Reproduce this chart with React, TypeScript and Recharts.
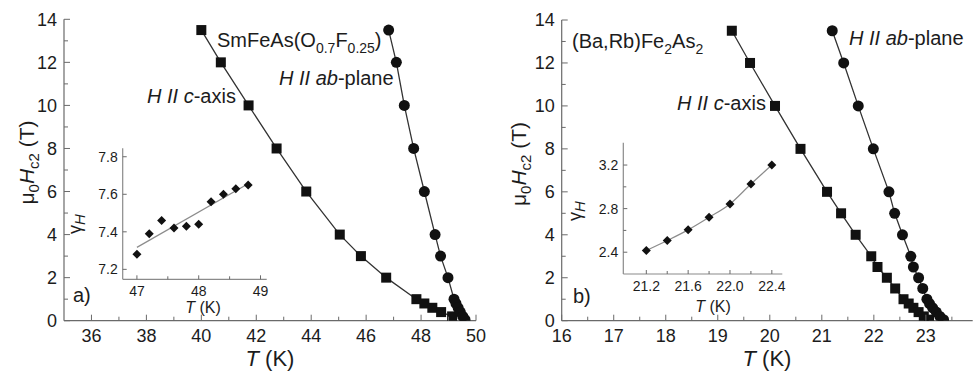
import React from 'react';
import { ComposedChart, Line, XAxis, YAxis } from 'recharts';

const FONT = '"Liberation Sans", Arial, Helvetica, sans-serif';
const TXT = '#1c1c1c';
const FRAME = '#6a6a6a';
const MARK = '#111';
const LINE = '#333';

// ---- Panel a: SmFeAs(O0.7F0.25) ----
const aCAxisT = [40.0, 40.71, 41.72, 42.74, 43.82, 45.04, 45.81, 46.73, 47.83, 48.12, 48.41, 48.73, 49.13];
const aCAxisH = [13.5, 12, 10, 8, 6, 4, 3, 2, 1, 0.8, 0.6, 0.4, 0.2];
const aAbT = [46.82, 47.1, 47.39, 47.73, 48.12, 48.51, 48.71, 48.98, 49.2, 49.27, 49.35, 49.43, 49.52, 49.6];
const aAbH = [13.5, 12, 10, 8, 6, 4, 3, 2, 1, 0.8, 0.6, 0.4, 0.2, 0.05];
const aXTicks = [36, 37, 38, 39, 40, 41, 42, 43, 44, 45, 46, 47, 48, 49, 50];
const aXLabels = [36, 38, 40, 42, 44, 46, 48, 50];
const hTicks = [0, 1, 2, 3, 4, 5, 6, 7, 8, 9, 10, 11, 12, 13, 14];
const hLabels = [0, 2, 4, 6, 8, 10, 12, 14];

// inset a
const aInsT = [47.0, 47.2, 47.4, 47.6, 47.8, 48.0, 48.2, 48.4, 48.6, 48.8];
const aInsG = [7.28, 7.39, 7.46, 7.42, 7.43, 7.44, 7.56, 7.6, 7.63, 7.65];
const aFitT = [47.0, 48.8];
const aFitG = [7.317, 7.656];
const aInsXTicks = [47, 47.5, 48, 48.5, 49];
const aInsXLabels = [47, 48, 49];
const aInsYTicks = [7.2, 7.4, 7.6, 7.8];
const aInsYLabels = [7.2, 7.4, 7.6, 7.8];

// ---- Panel b: (Ba,Rb)Fe2As2 ----
const bCAxisT = [19.27, 19.62, 20.1, 20.59, 21.1, 21.37, 21.65, 21.95, 22.07, 22.25, 22.41, 22.57, 22.67, 22.76, 22.86, 22.96, 23.06];
const bCAxisH = [13.5, 12, 10, 8, 6, 5, 4, 3, 2.5, 2, 1.5, 1, 0.8, 0.6, 0.4, 0.2, 0.05];
const bAbT = [21.2, 21.42, 21.7, 21.99, 22.29, 22.4, 22.55, 22.71, 22.76, 22.86, 22.94, 23.02, 23.07, 23.13, 23.2, 23.27, 23.34];
const bAbH = [13.5, 12, 10, 8, 6, 5, 4, 3, 2.5, 2, 1.5, 1, 0.8, 0.6, 0.4, 0.2, 0.05];
const bXTicks = [16, 16.5, 17, 17.5, 18, 18.5, 19, 19.5, 20, 20.5, 21, 21.5, 22, 22.5, 23, 23.5];
const bXLabels = [16, 17, 18, 19, 20, 21, 22, 23];

// inset b
const bInsT = [21.2, 21.4, 21.6, 21.8, 22.0, 22.2, 22.4];
const bInsG = [2.415, 2.507, 2.605, 2.72, 2.843, 3.026, 3.2];
const bInsXTicks = [21.2, 21.4, 21.6, 21.8, 22.0, 22.2, 22.4];
const bInsXLabels = [21.2, 21.6, 22.0, 22.4];
const bInsYTicks = [2.4, 2.6, 2.8, 3.0, 3.2];
const bInsYLabels = [2.4, 2.8, 3.2];

const toPts = (xs: number[], ys: number[]) => xs.map((x, i) => ({ x, y: ys[i] }));

type Side = 'bottom' | 'left' | 'top' | 'right';

function makeTick(
  side: Side,
  majors: number[],
  opts: { fontSize?: number; margin?: number; major?: number; minor?: number; label?: boolean; fmt?: (v: number) => string }
) {
  const { fontSize = 18, margin = 0, major = 6, minor = 4, label = false, fmt = (v: number) => String(v) } = opts;
  return (props: any) => {
    const { x, y, payload } = props;
    const v = payload.value as number;
    const isMajor = majors.some((m) => Math.abs(m - v) < 1e-6);
    const len = isMajor ? major : minor;
    let ln: any = null;
    let tx: any = null;
    if (side === 'bottom') {
      ln = <line x1={x} x2={x} y1={y - margin} y2={y - margin - len} stroke={FRAME} strokeWidth={1} />;
      if (label && isMajor)
        tx = (
          <text x={x} y={y} dy="0.72em" textAnchor="middle" fontSize={fontSize} fontFamily={FONT} fill={TXT}>
            {fmt(v)}
          </text>
        );
    } else if (side === 'left') {
      ln = <line x1={x + margin} x2={x + margin + len} y1={y} y2={y} stroke={FRAME} strokeWidth={1} />;
      if (label && isMajor)
        tx = (
          <text x={x} y={y} dy="0.36em" textAnchor="end" fontSize={fontSize} fontFamily={FONT} fill={TXT}>
            {fmt(v)}
          </text>
        );
    } else if (side === 'top') {
      ln = <line x1={x} x2={x} y1={y + margin} y2={y + margin + len} stroke={FRAME} strokeWidth={1} />;
    } else {
      ln = <line x1={x - margin} x2={x - margin - len} y1={y} y2={y} stroke={FRAME} strokeWidth={1} />;
    }
    return (
      <g>
        {ln}
        {tx}
      </g>
    );
  };
}

const squareDot = (size: number) => (p: any) =>
  p.cx == null ? <g key={`s${p.index}`} /> : (
    <rect key={`s${p.index}`} x={p.cx - size / 2} y={p.cy - size / 2} width={size} height={size} fill={MARK} />
  );
const circleDot = (r: number) => (p: any) =>
  p.cx == null ? <g key={`c${p.index}`} /> : <circle key={`c${p.index}`} cx={p.cx} cy={p.cy} r={r} fill={MARK} />;
const diamondDot = (r: number) => (p: any) =>
  p.cx == null ? <g key={`d${p.index}`} /> : (
    <polygon
      key={`d${p.index}`}
      points={`${p.cx},${p.cy - r} ${p.cx + r},${p.cy} ${p.cx},${p.cy + r} ${p.cx - r},${p.cy}`}
      fill={MARK}
    />
  );

interface MainProps {
  width: number;
  height: number;
  margin: { top: number; right: number; bottom: number; left: number };
  yAxisWidth: number;
  xAxisHeight: number;
  xDomain: [number, number];
  xTicks: number[];
  xLabels: number[];
  cData: { x: number; y: number }[];
  abData: { x: number; y: number }[];
}

function MainPanel(p: MainProps) {
  const axisLine = { stroke: FRAME, strokeWidth: 1.2 };
  return (
    <ComposedChart width={p.width} height={p.height} margin={p.margin}>
      <XAxis
        xAxisId="b"
        type="number"
        dataKey="x"
        domain={p.xDomain}
        ticks={p.xTicks}
        interval={0}
        allowDataOverflow
        orientation="bottom"
        height={p.xAxisHeight}
        tickSize={0}
        tickMargin={8}
        tickLine={false}
        axisLine={axisLine}
        tick={makeTick('bottom', p.xLabels, { fontSize: 18, margin: 8, label: true, major: 6, minor: 4 })}
      />
      <XAxis
        xAxisId="t"
        type="number"
        dataKey="x"
        domain={p.xDomain}
        ticks={p.xTicks}
        interval={0}
        allowDataOverflow
        orientation="top"
        height={0}
        tickSize={0}
        tickMargin={0}
        tickLine={false}
        axisLine={axisLine}
        tick={makeTick('top', p.xLabels, { major: 6, minor: 4 })}
      />
      <YAxis
        yAxisId="l"
        type="number"
        domain={[0, 14]}
        ticks={hTicks}
        interval={0}
        allowDataOverflow
        orientation="left"
        width={p.yAxisWidth}
        tickSize={0}
        tickMargin={7}
        tickLine={false}
        axisLine={axisLine}
        tick={makeTick('left', hLabels, { fontSize: 18, margin: 7, label: true, major: 6, minor: 4 })}
      />
      <YAxis
        yAxisId="r"
        type="number"
        domain={[0, 14]}
        ticks={hTicks}
        interval={0}
        allowDataOverflow
        orientation="right"
        width={0}
        tickSize={0}
        tickMargin={0}
        tickLine={false}
        axisLine={axisLine}
        tick={makeTick('right', hLabels, { major: 6, minor: 4 })}
      />
      <Line
        xAxisId="b"
        yAxisId="l"
        data={p.cData}
        dataKey="y"
        type="linear"
        stroke={LINE}
        strokeWidth={1.3}
        dot={squareDot(10)}
        activeDot={false}
        isAnimationActive={false}
      />
      <Line
        xAxisId="b"
        yAxisId="l"
        data={p.abData}
        dataKey="y"
        type="linear"
        stroke={LINE}
        strokeWidth={1.3}
        dot={circleDot(5.5)}
        activeDot={false}
        isAnimationActive={false}
      />
    </ComposedChart>
  );
}

interface InsetProps {
  width: number;
  height: number;
  margin: { top: number; right: number; bottom: number; left: number };
  yAxisWidth: number;
  xAxisHeight: number;
  xDomain: [number, number];
  yDomain: [number, number];
  xTicks: number[];
  xLabels: number[];
  yTicks: number[];
  yLabels: number[];
  pts: { x: number; y: number }[];
  curve: { x: number; y: number }[];
  curveType: 'linear' | 'monotone';
  fmtX: (v: number) => string;
}

function InsetPanel(p: InsetProps) {
  const axisLine = { stroke: '#8a8a8a', strokeWidth: 1.2 };
  const fmt = (v: number) => v.toFixed(1);
  return (
    <ComposedChart width={p.width} height={p.height} margin={p.margin}>
      <XAxis
        xAxisId="b"
        type="number"
        dataKey="x"
        domain={p.xDomain}
        ticks={p.xTicks}
        interval={0}
        allowDataOverflow
        orientation="bottom"
        height={p.xAxisHeight}
        tickSize={0}
        tickMargin={7}
        tickLine={false}
        axisLine={axisLine}
        tick={makeTick('bottom', p.xLabels, { fontSize: 14, margin: 7, label: true, major: 4, minor: 3, fmt: p.fmtX })}
      />
      <XAxis
        xAxisId="t"
        type="number"
        dataKey="x"
        domain={p.xDomain}
        ticks={p.xTicks}
        interval={0}
        allowDataOverflow
        orientation="top"
        height={0}
        tickSize={0}
        tickMargin={0}
        tickLine={false}
        axisLine={axisLine}
        tick={makeTick('top', p.xLabels, { major: 4, minor: 3 })}
      />
      <YAxis
        yAxisId="l"
        type="number"
        domain={p.yDomain}
        ticks={p.yTicks}
        interval={0}
        allowDataOverflow
        orientation="left"
        width={p.yAxisWidth}
        tickSize={0}
        tickMargin={5}
        tickLine={false}
        axisLine={axisLine}
        tick={makeTick('left', p.yLabels, { fontSize: 14, margin: 5, label: true, major: 4, minor: 3, fmt })}
      />
      <YAxis
        yAxisId="r"
        type="number"
        domain={p.yDomain}
        ticks={p.yTicks}
        interval={0}
        allowDataOverflow
        orientation="right"
        width={0}
        tickSize={0}
        tickMargin={0}
        tickLine={false}
        axisLine={axisLine}
        tick={makeTick('right', p.yLabels, { major: 4, minor: 3 })}
      />
      <Line
        xAxisId="b"
        yAxisId="l"
        data={p.curve}
        dataKey="y"
        type={p.curveType}
        stroke="#8c8c8c"
        strokeWidth={1.2}
        dot={false}
        activeDot={false}
        isAnimationActive={false}
      />
      <Line
        xAxisId="b"
        yAxisId="l"
        data={p.pts}
        dataKey="y"
        type="linear"
        stroke="none"
        dot={diamondDot(4.5)}
        activeDot={false}
        isAnimationActive={false}
      />
    </ComposedChart>
  );
}

function Overlay() {
  const base = { fontFamily: FONT, fill: TXT } as const;
  const yTitle = (bx: number, cy: number) => (
    <text {...base} transform="rotate(-90)" x={-cy} y={bx} textAnchor="middle" fontSize={21}>
      <tspan>μ</tspan>
      <tspan fontSize={15} dy={5}>0</tspan>
      <tspan fontStyle="italic" dy={-5}>H</tspan>
      <tspan fontSize={15} dy={5}>c2</tspan>
      <tspan dy={-5}> (T)</tspan>
    </text>
  );
  const gamma = (bx: number, cy: number) => (
    <text {...base} transform="rotate(-90)" x={-cy} y={bx} textAnchor="middle" fontSize={18}>
      <tspan>γ</tspan>
      <tspan fontSize={15} fontStyle="italic" dy={4}>H</tspan>
    </text>
  );
  const tk = (cx: number, by: number, fs: number) => (
    <text {...base} x={cx} y={by} textAnchor="middle" fontSize={fs}>
      <tspan fontStyle="italic">T</tspan>
      <tspan> (K)</tspan>
    </text>
  );
  const hLabel = (x: number, by: number, dir: string, rest: string) => (
    <text {...base} x={x} y={by} fontSize={20}>
      <tspan fontStyle="italic">H II {dir}</tspan>
      <tspan>{rest}</tspan>
    </text>
  );
  return (
    <svg width={976} height={380} style={{ position: 'absolute', left: 0, top: 0, pointerEvents: 'none' }}>
      {yTitle(33.5, 162.5)}
      {yTitle(526, 164)}
      {tk(270, 366, 22)}
      {tk(767, 366, 22)}
      {gamma(81, 224)}
      {gamma(581, 211)}
      {tk(203, 313, 16)}
      {tk(713, 312, 16)}
      <text {...base} x={217} y={46.5} fontSize={20}>
        <tspan>SmFeAs(O</tspan>
        <tspan fontSize={14} dy={6}>0.7</tspan>
        <tspan dy={-6}>F</tspan>
        <tspan fontSize={14} dy={6}>0.25</tspan>
        <tspan dy={-6}>)</tspan>
      </text>
      {hLabel(279, 85, 'ab', '-plane')}
      {hLabel(147, 102.5, 'c', '-axis')}
      <text {...base} x={73} y={302} fontSize={20}>a)</text>
      <text {...base} x={572} y={48} fontSize={20}>
        <tspan>(Ba,Rb)Fe</tspan>
        <tspan fontSize={14} dy={6}>2</tspan>
        <tspan dy={-6}>As</tspan>
        <tspan fontSize={14} dy={6}>2</tspan>
      </text>
      {hLabel(849, 45, 'ab', '-plane')}
      {hLabel(677, 110, 'c', '-axis')}
      <text {...base} x={573} y={303} fontSize={20}>b)</text>
    </svg>
  );
}

const fmtInt = (v: number) => String(v);
const fmtOne = (v: number) => v.toFixed(1);

export default function App() {
  return (
    <div style={{ position: 'absolute', left: 0, top: 0, width: 976, height: 380, background: '#fff', overflow: 'hidden' }}>
      <div style={{ position: 'absolute', left: 0, top: 0 }}>
        <MainPanel
          width={490}
          height={380}
          margin={{ top: 19.3, right: 14, bottom: 0, left: 0 }}
          yAxisWidth={64}
          xAxisHeight={59.3}
          xDomain={[35, 50]}
          xTicks={aXTicks}
          xLabels={aXLabels}
          cData={toPts(aCAxisT, aCAxisH)}
          abData={toPts(aAbT, aAbH)}
        />
      </div>
      <div style={{ position: 'absolute', left: 490, top: 0 }}>
        <MainPanel
          width={486}
          height={380}
          margin={{ top: 20, right: 3.3, bottom: 0, left: 0 }}
          yAxisWidth={71.7}
          xAxisHeight={59.3}
          xDomain={[16, 23.9]}
          xTicks={bXTicks}
          xLabels={bXLabels}
          cData={toPts(bCAxisT, bCAxisH)}
          abData={toPts(bAbT, bAbH)}
        />
      </div>
      <div style={{ position: 'absolute', left: 70, top: 140 }}>
        <InsetPanel
          width={200}
          height={180}
          margin={{ top: 8.3, right: 3.3, bottom: 0, left: 0 }}
          yAxisWidth={52.7}
          xAxisHeight={40.7}
          xDomain={[46.77, 49.1]}
          yDomain={[7.147, 7.845]}
          xTicks={aInsXTicks}
          xLabels={aInsXLabels}
          yTicks={aInsYTicks}
          yLabels={aInsYLabels}
          pts={toPts(aInsT, aInsG)}
          curve={toPts(aFitT, aFitG)}
          curveType="linear"
          fmtX={fmtInt}
        />
      </div>
      <div style={{ position: 'absolute', left: 570, top: 134 }}>
        <InsetPanel
          width={216}
          height={186}
          margin={{ top: 8.7, right: 3.7, bottom: 0, left: 0 }}
          yAxisWidth={53.3}
          xAxisHeight={46}
          xDomain={[20.98, 22.5]}
          yDomain={[2.2, 3.405]}
          xTicks={bInsXTicks}
          xLabels={bInsXLabels}
          yTicks={bInsYTicks}
          yLabels={bInsYLabels}
          pts={toPts(bInsT, bInsG)}
          curve={toPts(bInsT, bInsG)}
          curveType="monotone"
          fmtX={fmtOne}
        />
      </div>
      <Overlay />
    </div>
  );
}
